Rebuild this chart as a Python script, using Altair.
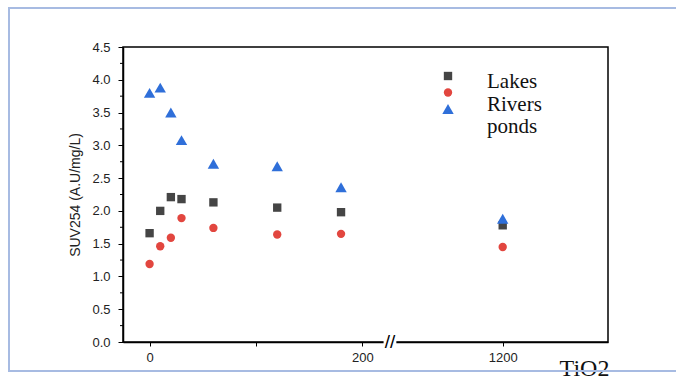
import altair as alt
import pandas as pd

# ---- data ----
tio2 = [0, 10, 20, 30, 60, 120, 180, 1200]
lakes = [1.66, 2.00, 2.21, 2.18, 2.13, 2.05, 1.98, 1.78]
rivers = [1.19, 1.46, 1.59, 1.89, 1.74, 1.64, 1.65, 1.45]
ponds = [3.80, 3.88, 3.50, 3.08, 2.72, 2.68, 2.36, 1.88]

series = ["Lakes", "Rivers", "ponds"]
colors = ["#454545", "#e2463f", "#2f6fd9"]
shapes = ["square", "circle", "triangle-up"]
sizes = [70, 70, 130]

y_ticks = [0.0, 0.5, 1.0, 1.5, 2.0, 2.5, 3.0, 3.5, 4.0, 4.5]
y_minor = [0.25, 0.75, 1.25, 1.75, 2.25, 2.75, 3.25, 3.75, 4.25]
x_tick_labels = ["0", "200", "1200"]

# broken x axis: values above 200 are shifted left so that 1200 sits at 332
BREAK_AT = 200
SHIFT = 1200 - 332
BREAK_POS = 226
X_DOMAIN = [-25, 431]
x_axis_values = [0, 100, 200, 332]

rows = []
for name, vals in zip(series, [lakes, rivers, ponds]):
    for x, v in zip(tio2, vals):
        rows.append({"TiO2": x, "SUV": v, "series": name})
df = pd.DataFrame(rows)

yscale = alt.Scale(domain=[0, 4.5], nice=False, zero=False)
xscale = alt.Scale(domain=X_DOMAIN, nice=False, zero=False)
size_scale = alt.Scale(type="ordinal", domain=series, range=sizes)

label_expr = (
    "datum.value == 100 ? '' : (datum.value == 332 ? '%s' : datum.value == 200 ? '%s' : '%s')"
    % (x_tick_labels[2], x_tick_labels[1], x_tick_labels[0])
)

one = pd.DataFrame({"a": [0]})

frame = alt.Chart(one).mark_rect(
    fillOpacity=0, stroke="#a7bbe2", strokeWidth=2
).encode(
    x=alt.value(-114), x2=alt.value(580), y=alt.value(-39), y2=alt.value(324)
)

points = (
    alt.Chart(df)
    .transform_calculate(pos=f"datum.TiO2 <= {BREAK_AT} ? datum.TiO2 : datum.TiO2 - {SHIFT}")
    .mark_point(filled=True, opacity=1)
    .encode(
        x=alt.X(
            "pos:Q",
            scale=xscale,
            axis=alt.Axis(
                values=x_axis_values,
                labelExpr=label_expr,
                title="TiO2",
                titleFont="Liberation Serif",
                titleFontSize=24,
                titleFontWeight="normal",
                titleColor="#111111",
                titleX=461,
                titleY=33,
                titleAlign="center",
                titleBaseline="alphabetic",
                labelFont="Liberation Sans",
                labelFontSize=13,
                labelColor="#222222",
                labelPadding=5,
                tickSize=4,
                grid=False,
            ),
        ),
        y=alt.Y(
            "SUV:Q",
            scale=yscale,
            axis=alt.Axis(
                values=y_ticks,
                format=".1f",
                title="SUV254 (A.U/mg/L)",
                titleFont="Liberation Sans",
                titleFontSize=14,
                titleFontWeight="normal",
                titleColor="#222222",
                titleAngle=-90,
                titleX=-48,
                titleY=147.5,
                titleAlign="center",
                titleBaseline="middle",
                labelFont="Liberation Sans",
                labelFontSize=13,
                labelColor="#222222",
                labelPadding=8,
                tickSize=5,
                grid=False,
            ),
        ),
        color=alt.Color("series:N", scale=alt.Scale(domain=series, range=colors), legend=None),
        shape=alt.Shape("series:N", scale=alt.Scale(domain=series, range=shapes), legend=None),
        size=alt.Size("series:N", scale=size_scale, legend=None),
    )
)

minor = alt.Chart(pd.DataFrame({"v": y_minor})).mark_rule(color="black", strokeWidth=1).encode(
    y=alt.Y("v:Q", scale=yscale, axis=None),
    x=alt.value(-3),
    x2=alt.value(0),
)

brk = pd.DataFrame({"p": [BREAK_POS - 6], "p2": [BREAK_POS + 6], "t": ["//"], "c": [BREAK_POS]})
gap = alt.Chart(brk).mark_rect(color="white").encode(
    x=alt.X("p:Q", scale=xscale), x2="p2:Q", y=alt.value(292), y2=alt.value(298)
)
slashes = alt.Chart(brk).mark_text(
    font="Liberation Sans", fontSize=19, color="black", baseline="middle", align="center"
).encode(x=alt.X("c:Q", scale=xscale), y=alt.value(295), text="t:N")

leg = pd.DataFrame({"series": series, "row": [0, 1, 2]})
leg_sym = alt.Chart(leg).mark_point(filled=True, opacity=1).encode(
    x=alt.value(325),
    y=alt.Y("row:Q", scale=alt.Scale(domain=[0, 2], range=[29, 62]), axis=None),
    color=alt.Color("series:N", scale=alt.Scale(domain=series, range=colors), legend=None),
    shape=alt.Shape("series:N", scale=alt.Scale(domain=series, range=shapes), legend=None),
    size=alt.Size("series:N", scale=size_scale, legend=None),
)
leg_txt = alt.Chart(leg).mark_text(
    align="left", baseline="alphabetic", font="Liberation Serif", fontSize=21, color="#111111"
).encode(
    x=alt.value(364),
    y=alt.Y("row:Q", scale=alt.Scale(domain=[0, 2], range=[41, 86]), axis=None),
    text="series:N",
)

chart = (
    alt.layer(frame, points, minor, gap, slashes, leg_sym, leg_txt)
    .resolve_scale(y="independent")
    .properties(
        width=485,
        height=295,
        autosize=alt.AutoSizeParams(type="none"),
        padding={"left": 123, "top": 47, "right": 68, "bottom": 38},
        background="white",
    )
    .configure_view(stroke="black", strokeWidth=1.5)
    .configure_axis(domainColor="black", domainWidth=1.5, tickColor="black", tickWidth=1)
)

chart.save("out.html", embed_options={"renderer": "svg", "actions": False})
